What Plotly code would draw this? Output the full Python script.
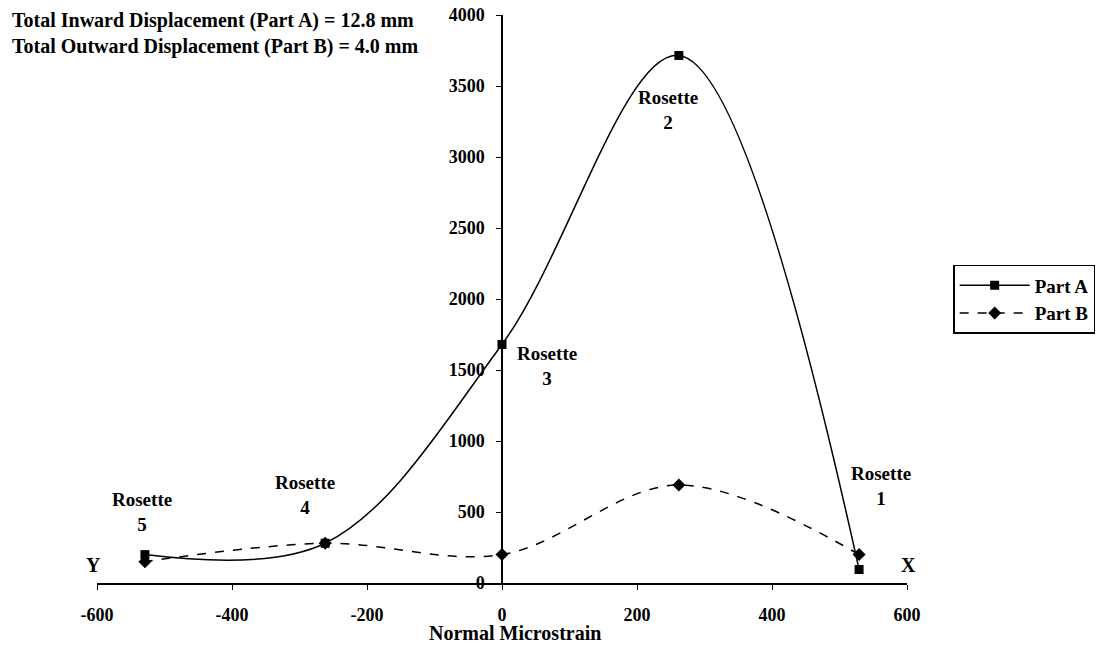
import plotly.graph_objects as go

# rosette positions (normal microstrain) and values
rosettes = ["1", "2", "3", "4", "5"]
x_vals = [529, 262, 0, -262, -529]
part_a = [95, 3715, 1680, 280, 200]
part_b = [200, 690, 200, 280, 150]

# label anchors for the "Rosette n" notes
label_x = [561, 246, 67, -292, -533]
label_y = [683, 3331, 1528, 620, 500]

x_ticks = [-600, -400, -200, 0, 200, 400, 600]
y_ticks = [0, 500, 1000, 1500, 2000, 2500, 3000, 3500, 4000]

serif = "Liberation Serif"
bold = dict(family=serif, color="black", weight="bold")

fig = go.Figure()
fig.add_trace(go.Scatter(
    x=x_vals, y=part_a, name="Part A", mode="lines+markers",
    line=dict(color="black", width=1.5, shape="spline", smoothing=1),
    marker=dict(symbol="square", size=9, color="black"),
))
fig.add_trace(go.Scatter(
    x=x_vals, y=part_b, name="Part B", mode="lines+markers",
    line=dict(color="black", width=1.5, shape="spline", smoothing=1, dash="dash"),
    marker=dict(symbol="diamond", size=10, color="black"),
))

for r, lx, ly in zip(rosettes, label_x, label_y):
    fig.add_annotation(x=lx, y=ly, text="Rosette<br>" + r, showarrow=False,
                       font=dict(bold, size=19))

fig.add_annotation(xref="paper", x=-0.016, y=127, text="Y", showarrow=False,
                   font=dict(bold, size=20))
fig.add_annotation(xref="paper", x=1.014, y=127, text="X", showarrow=False,
                   font=dict(bold, size=20))
fig.add_annotation(xref="paper", yref="paper", x=-0.107, y=1.014, xanchor="left", yanchor="top",
                   align="left", showarrow=False,
                   text="Total Inward Displacement (Part A) = 12.8 mm<br>Total Outward Displacement (Part B) = 4.0 mm",
                   font=dict(bold, size=20))
fig.add_annotation(xref="paper", yref="paper", x=0.516, y=-0.088, xanchor="center", yanchor="middle",
                   showarrow=False, text="Normal Microstrain", font=dict(bold, size=20))

# page body adds an 8px offset, margins compensate for it
fig.update_layout(
    width=1106, height=651,
    margin=dict(l=89, r=207, t=7, b=76, autoexpand=False),
    paper_bgcolor="white", plot_bgcolor="white",
    font=dict(family=serif, size=18, color="black"),
    showlegend=True,
    legend=dict(x=1.057, y=0.56, xanchor="left", yanchor="top",
                bordercolor="black", borderwidth=1.5, itemwidth=70,
                font=dict(bold, size=19)),
)
fig.update_xaxes(range=[-600, 600], tickvals=x_ticks, ticktext=[str(v) for v in x_ticks],
                 showgrid=False, zeroline=False, automargin=False, ticklabeloverflow="allow",
                 showline=True, linecolor="black", linewidth=1.5,
                 ticks="outside", ticklen=5, tickcolor="black", ticklabelstandoff=10,
                 tickfont=dict(bold, size=18))
fig.update_yaxes(range=[0, 4000], tickvals=y_ticks, ticktext=[str(v) for v in y_ticks],
                 showgrid=False, zeroline=False, automargin=False, ticklabeloverflow="allow",
                 anchor="free", position=0.5,
                 showline=True, linecolor="black", linewidth=1.5,
                 ticks="outside", ticklen=5, tickcolor="black", ticklabelstandoff=8,
                 tickfont=dict(bold, size=18))

fig.write_html("out.html")
